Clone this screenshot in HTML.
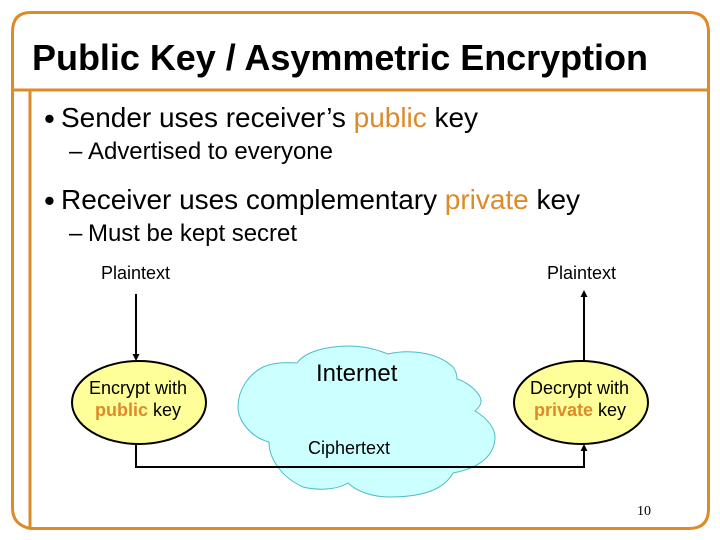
<!DOCTYPE html>
<html><head><meta charset="utf-8"><style>
html,body{margin:0;padding:0;background:#fff}
svg{display:block}
text{font-family:"Liberation Sans",sans-serif;fill:#000}
.o{fill:#DD8A2B}
</style></head><body>
<svg width="720" height="540" viewBox="0 0 720 540" xmlns="http://www.w3.org/2000/svg">
<rect width="720" height="540" fill="#fff"/>
<g fill="none" stroke="#DD8A2B" stroke-width="3">
<path d="M30.5 12.5H689Q708.5 12.500 708.500 32V509Q708.500 528.500 689 528.500H30.500Q12.500 525 12.500 508V32Q12.500 12.500 30.500 12.500Z"/>
<path d="M12.500 90H708.500"/>
<path d="M30 90V528"/>
</g>
<text x="32" y="70" font-size="36" font-weight="bold" textLength="616">Public Key / Asymmetric Encryption</text>
<text x="44" y="129" font-size="31">•</text>
<text x="61" y="127" font-size="28" textLength="417">Sender uses receiver’s <tspan class="o">public</tspan> key</text>
<text x="69" y="159" font-size="24">–</text>
<text x="88" y="159" font-size="24" textLength="245">Advertised to everyone</text>
<text x="44" y="211" font-size="31">•</text>
<text x="61" y="209" font-size="28" textLength="519">Receiver uses complementary <tspan class="o">private</tspan> key</text>
<text x="69" y="241" font-size="24">–</text>
<text x="88" y="241" font-size="24" textLength="209">Must be kept secret</text>
<text x="101" y="279" font-size="18">Plaintext</text>
<text x="547" y="279" font-size="18">Plaintext</text>
<path d="M269 442C250 437 238 420 238 407C238 390 248 375 263 367C272 363 285 362 297 363C305 352 325 346 350 346C365 346 378 350 388 354C405 350 435 350 453 367C456 371 457 375 457 379C470 383 482 395 481 402C481 405 478 408 475 411C487 418 495 428 495 437C495 455 480 468 453 473C445 488 425 497 390 497C370 497 355 490 348 483C335 491 315 490 303 487C283 478 269 460 269 442Z" fill="#CCFFFF" stroke="#4DBBC8" stroke-width="1"/>
<text x="316" y="381" font-size="24">Internet</text>
<text x="308" y="454" font-size="18">Ciphertext</text>
<g fill="none" stroke="#000" stroke-width="2">
<path d="M136 294V358"/>
<path d="M136 444V467H584V446"/>
<path d="M584 361V294"/>
</g>
<path d="M136 361l-3.500-7h7z M584 444l-3.500 7h7z M584 290l-3.500 7h7z" fill="#000"/>
<ellipse cx="139" cy="402.500" rx="67" ry="41.500" fill="#FFFF99" stroke="#000" stroke-width="2"/>
<ellipse cx="581" cy="402.500" rx="67" ry="41.500" fill="#FFFF99" stroke="#000" stroke-width="2"/>
<text x="89" y="394" font-size="18">Encrypt with</text>
<text x="95" y="416" font-size="18"><tspan class="o" font-weight="bold">public</tspan> key</text>
<text x="530" y="394" font-size="18">Decrypt with</text>
<text x="534" y="416" font-size="18"><tspan class="o" font-weight="bold">private</tspan> key</text>
<text x="637" y="515" font-size="14" style="font-family:'Liberation Serif',serif">10</text>
</svg>
</body></html>
